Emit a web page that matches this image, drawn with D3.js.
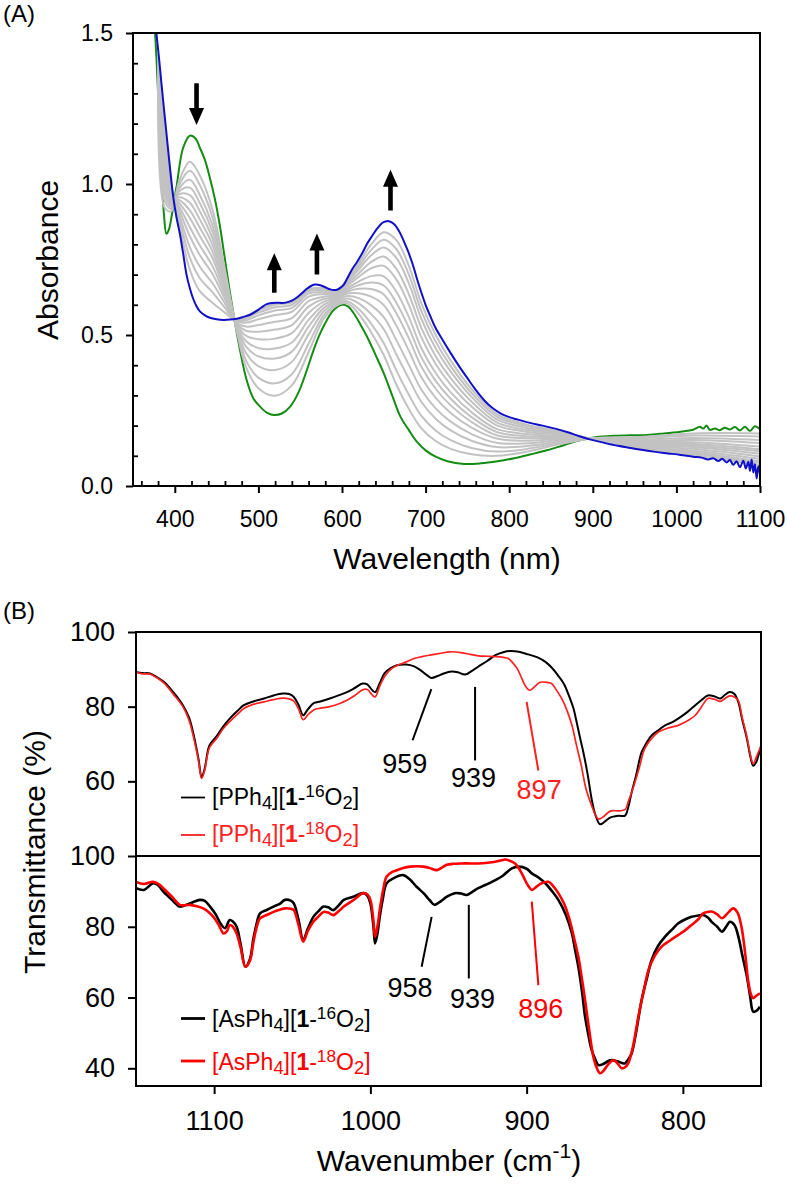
<!DOCTYPE html>
<html>
<head>
<meta charset="utf-8">
<script src="https://cdn.jsdelivr.net/npm/d3@7"></script>
<style>
  body { margin: 0; background: #fff; }
  svg text { font-family: "Liberation Sans", Arial, sans-serif; }
</style>
</head>
<body>
<svg id="fig" width="787" height="1184"></svg>
<script>
// ---------- panel A: UV-vis titration (wavelength nm, absorbance) ----------
const greenSpec = [[374,1.62],[376,1.52],[378,1.42],[380,1.30],[382,1.17],[384,1.05],[387,0.90],[390,0.835],[393,0.85],[396,0.89],[402,0.99],[410,1.12],[418,1.16],[425,1.15],[430,1.12],[436,1.08],[442,1.02],[448,0.95],[454,0.86],[460,0.75],[466,0.64],[472,0.54],[478,0.45],[486,0.35],[494,0.29],[502,0.263],[510,0.243],[518,0.235],[528,0.24],[538,0.263],[548,0.31],[558,0.384],[566,0.45],[574,0.506],[582,0.55],[590,0.583],[600,0.60],[607,0.595],[614,0.572],[622,0.535],[630,0.494],[640,0.435],[650,0.373],[660,0.30],[670,0.229],[680,0.185],[690,0.145],[700,0.118],[712,0.097],[726,0.082],[746,0.073],[766,0.075],[786,0.082],[806,0.092],[826,0.105],[846,0.119],[866,0.136],[886,0.152],[905,0.162],[925,0.166],[945,0.168],[965,0.169],[985,0.174],[1005,0.18],[1020,0.186],[1028,0.196],[1032,0.19],[1036,0.2],[1040,0.186],[1046,0.19],[1052,0.185],[1058,0.193],[1064,0.187],[1070,0.195],[1076,0.184],[1082,0.196],[1088,0.182],[1094,0.198],[1100,0.188]];

const blueSpec = [[375,1.6],[378,1.50],[381,1.42],[384,1.334],[387,1.25],[390,1.168],[394,1.06],[398,0.96],[402,0.89],[406,0.836],[410,0.77],[414,0.70],[418,0.655],[422,0.62],[426,0.595],[430,0.578],[436,0.565],[442,0.557],[450,0.552],[458,0.55],[466,0.551],[474,0.554],[482,0.56],[490,0.567],[498,0.58],[504,0.592],[510,0.602],[516,0.606],[522,0.607],[528,0.606],[534,0.608],[540,0.614],[546,0.624],[552,0.638],[558,0.653],[564,0.664],[568,0.667],[574,0.665],[580,0.658],[586,0.651],[590,0.649],[594,0.65],[598,0.656],[602,0.666],[606,0.686],[612,0.717],[618,0.742],[624,0.77],[630,0.802],[636,0.828],[642,0.852],[648,0.871],[652,0.876],[656,0.877],[660,0.872],[664,0.862],[668,0.845],[672,0.823],[676,0.797],[680,0.77],[685,0.73],[690,0.683],[695,0.64],[700,0.60],[706,0.56],[712,0.523],[720,0.485],[730,0.44],[740,0.397],[750,0.357],[760,0.318],[770,0.284],[780,0.258],[790,0.24],[800,0.228],[810,0.22],[825,0.209],[840,0.2],[855,0.19],[870,0.178],[885,0.164],[900,0.152],[915,0.142],[930,0.133],[945,0.126],[960,0.119],[975,0.113],[990,0.108],[1005,0.103],[1020,0.097],[1030,0.094],[1038,0.088],[1044,0.092],[1050,0.083],[1055,0.09],[1060,0.078],[1064,0.086],[1068,0.07],[1072,0.082],[1076,0.062],[1080,0.084],[1083,0.058],[1086,0.08],[1088,0.05],[1090,0.088],[1092,0.045],[1094,0.072],[1096,0.025],[1098,0.065],[1100,0.04]];

// intermediate spectra, all on the same wavelength grid
const greyWl = [380,388,396,405,418,430,445,460,472,485,500,520,540,560,578,592,606,620,635,650,665,680,695,712,730,755,785,820,860,900,960,1020,1100];
const greySpecs = [
  [1.325,0.921,0.91,1.008,1.074,1.028,0.916,0.716,0.542,0.395,0.324,0.299,0.333,0.443,0.553,0.595,0.605,0.57,0.508,0.433,0.336,0.255,0.191,0.149,0.123,0.105,0.10,0.113,0.138,0.158,0.163,0.174,0.174],
  [1.333,0.943,0.918,0.996,1.044,0.996,0.89,0.704,0.543,0.417,0.359,0.34,0.37,0.471,0.565,0.60,0.612,0.586,0.537,0.473,0.383,0.302,0.232,0.184,0.152,0.126,0.114,0.122,0.143,0.157,0.159,0.167,0.164],
  [1.342,0.964,0.925,0.985,1.014,0.963,0.864,0.692,0.544,0.441,0.397,0.384,0.411,0.502,0.578,0.606,0.621,0.605,0.569,0.519,0.436,0.355,0.278,0.223,0.184,0.15,0.129,0.132,0.147,0.157,0.154,0.159,0.152],
  [1.349,0.982,0.931,0.975,0.988,0.936,0.842,0.682,0.544,0.462,0.429,0.422,0.445,0.528,0.589,0.611,0.629,0.622,0.598,0.559,0.483,0.401,0.319,0.257,0.213,0.172,0.143,0.141,0.152,0.157,0.15,0.152,0.142],
  [1.357,1.0,0.937,0.966,0.963,0.909,0.82,0.672,0.545,0.48,0.457,0.455,0.475,0.55,0.60,0.616,0.637,0.638,0.627,0.599,0.531,0.448,0.36,0.292,0.242,0.193,0.157,0.15,0.156,0.157,0.146,0.145,0.131],
  [1.364,1.018,0.943,0.956,0.938,0.882,0.799,0.662,0.546,0.498,0.486,0.488,0.506,0.573,0.61,0.62,0.643,0.653,0.652,0.634,0.572,0.489,0.395,0.322,0.267,0.212,0.168,0.158,0.16,0.156,0.142,0.139,0.122],
  [1.371,1.036,0.949,0.947,0.913,0.855,0.777,0.652,0.546,0.514,0.511,0.518,0.533,0.594,0.619,0.624,0.649,0.665,0.674,0.664,0.607,0.524,0.426,0.348,0.289,0.228,0.179,0.165,0.163,0.156,0.139,0.134,0.115],
  [1.378,1.054,0.955,0.937,0.887,0.828,0.755,0.642,0.547,0.528,0.533,0.544,0.556,0.612,0.627,0.628,0.655,0.677,0.695,0.694,0.643,0.559,0.456,0.374,0.31,0.244,0.189,0.172,0.166,0.156,0.136,0.129,0.107],
  [1.387,1.076,0.962,0.926,0.857,0.796,0.729,0.63,0.548,0.541,0.552,0.566,0.577,0.627,0.635,0.632,0.662,0.692,0.721,0.729,0.684,0.60,0.492,0.404,0.336,0.263,0.201,0.18,0.17,0.156,0.133,0.123,0.098],
  [1.396,1.098,0.969,0.915,0.827,0.764,0.703,0.618,0.549,0.549,0.565,0.581,0.59,0.637,0.641,0.636,0.668,0.704,0.742,0.76,0.719,0.635,0.523,0.43,0.357,0.279,0.211,0.186,0.173,0.156,0.13,0.117,0.09],
  [1.406,1.123,0.978,0.901,0.791,0.726,0.672,0.604,0.55,0.555,0.574,0.592,0.60,0.645,0.647,0.639,0.674,0.717,0.764,0.79,0.755,0.671,0.553,0.456,0.379,0.295,0.221,0.193,0.176,0.155,0.127,0.112,0.082],
  [1.416,1.148,0.986,0.888,0.756,0.688,0.642,0.59,0.55,0.559,0.581,0.60,0.607,0.65,0.651,0.643,0.678,0.727,0.782,0.815,0.784,0.70,0.579,0.478,0.397,0.308,0.23,0.199,0.179,0.155,0.124,0.108,0.076],
  [1.428,1.177,0.996,0.873,0.716,0.645,0.607,0.574,0.551,0.561,0.584,0.603,0.611,0.652,0.655,0.646,0.683,0.738,0.80,0.84,0.814,0.729,0.604,0.50,0.415,0.321,0.238,0.204,0.181,0.155,0.122,0.103,0.069]
];

// arrows: wavelength, tail absorbance, tip absorbance
const arrowsA = [[426,1.334,1.195],[519,0.64,0.771],[570,0.70,0.836],[658,0.912,1.047]];

const wlTicks = [400,500,600,700,800,900,1000,1100];
const absTicks = [0,0.5,1.0,1.5];

// ---------- panel B: IR (wavenumber cm-1, transmittance %) ----------
const pph16 = [[1150,89.3],[1146,89.0],[1141,88.9],[1137,88.0],[1132,86.6],[1126,83.8],[1120,80.4],[1116,77],[1113,72.3],[1110,66],[1108,61.1],[1106,63.5],[1103,69.6],[1098,72.3],[1094,74.8],[1090,76.8],[1085,78.9],[1081,80.4],[1075,81.4],[1068,82.2],[1062,83.0],[1056,83.5],[1052,83.4],[1049,82.6],[1046,80.5],[1043,77.7],[1040,79.3],[1036,81.0],[1032,81.4],[1026,82.2],[1020,83.1],[1015,83.9],[1010,85.0],[1005,86.2],[1002,86.0],[999,84.5],[997,83.9],[994,86.3],[991,88.9],[987,90.3],[983,91.1],[977,91.3],[972,90.8],[968,89.8],[964,88.5],[961,87.7],[957,88.2],[953,88.9],[948,89.4],[944,89.2],[939.4,88.6],[935,89.6],[931,90.7],[925,92.3],[920,93.8],[915,94.6],[910.6,94.9],[905,94.7],[899,94.0],[893,93.2],[888,92.0],[884,90.5],[880,88.4],[876,86.0],[873,83.0],[870,79.5],[868,75.9],[866,72],[863.7,67.8],[861,62],[858.4,55.3],[856,51],[853,48.5],[850,49.2],[846.6,50.3],[844,50.6],[841,50.8],[837,50.8],[835,53],[832.8,57],[830,61.5],[826.4,67.8],[823,70.5],[820,72.3],[815,73.9],[811.4,75],[807,75.8],[803,76.8],[797,78.6],[792,80.4],[788,81.8],[784,83],[780,82.8],[776,82.2],[773,83.2],[770,83.9],[767,83.4],[764.5,81.2],[762,76.5],[759,71.4],[757,67],[755,64.2],[753,65.2],[751,67.8],[750,68.5]];

const pph18 = [[1150,89.3],[1146,88.8],[1141,88.7],[1137,87.8],[1132,86.3],[1126,83.3],[1120,80],[1116,76.3],[1113,71.5],[1110,65.5],[1108,60.8],[1106,63],[1103,69],[1098,71.7],[1094,74.2],[1090,76],[1085,78],[1081,79.5],[1075,80.6],[1068,81.3],[1062,81.9],[1056,82.3],[1052,82.1],[1049,81.5],[1046,79.4],[1043,76.5],[1040,77.8],[1036,79.2],[1032,79.6],[1026,80],[1020,80.8],[1015,81.7],[1010,83],[1005,84.5],[1002,84.6],[999,83.2],[997,82.6],[994,85.5],[991,88],[987,90],[983,91],[977,92],[972,92.9],[967,93.4],[962,93.8],[955,94.3],[949,94.7],[942,94.5],[936,94],[931,93.6],[925,93.5],[920,93.4],[915,93.2],[911.7,92.9],[909,91.8],[906,90.2],[903,87.5],[901,85.7],[898,84.4],[895,85.3],[892,86.4],[890,86.6],[887,86.5],[884,86.2],[881,84.5],[877.6,82.2],[874,78.8],[871,75],[868,69.5],[865,64.2],[862,58],[858.4,53.5],[856,51],[854,49.9],[851,50.5],[848,51.6],[846,52.1],[841,52.1],[837,52.4],[835,54.5],[832,58],[828,63.5],[824.5,68.7],[820,71.5],[815.7,73.2],[810,74.2],[803,75],[797,76.2],[792,77.7],[788,80],[784,82.2],[780,82],[776,81.4],[773,82.2],[770,82.9],[767,82.6],[764.5,81.6],[762,77],[759,71.9],[757,67.5],[755,64.7],[753,66.5],[750,69.6]];

const asph16 = [[1150,90.9],[1145,90.4],[1139,92.3],[1136,91.8],[1132.5,89.9],[1127,87.6],[1122,85.7],[1119,86],[1115.5,86.6],[1112,87.2],[1109,87.6],[1106,87.3],[1102.6,85.7],[1099,83.5],[1096,81],[1093,79.6],[1090,81.9],[1088,81.5],[1085.6,80],[1083,75],[1080,68.7],[1077,71],[1075,76.3],[1073,80.5],[1070.6,83.8],[1066,84.8],[1062,85.7],[1058,86.5],[1054.6,87.6],[1051,87.4],[1049,86.6],[1046,82],[1043,76.3],[1040,79.5],[1036.5,82.8],[1033,84.5],[1030,85.7],[1027,85.5],[1023.7,84.7],[1020,86.2],[1017,87.6],[1011,88.5],[1004.5,89.5],[1002,88.8],[1000,86.6],[998,80],[997,75.3],[995.5,78],[994,82.8],[992,88],[989.6,92.3],[985.3,93.7],[979,94.6],[975,93.5],[970.4,91.3],[966,89.5],[962,87.5],[959,86.2],[955,87.2],[951,88.5],[946,89.5],[942,89.4],[938.4,89],[935,89.8],[931,90.9],[926,91.9],[920,93.2],[915,94.5],[909.5,96.5],[905,97],[900,96.4],[896.7,95.1],[892,93.8],[888,92.3],[884,90.2],[879.7,87.6],[875,83.5],[871,78.1],[869,73.5],[866.9,68.7],[864.5,61.5],[862.6,54.6],[860.5,49.5],[858.4,45.2],[856,42.5],[854,40.9],[851,41.2],[848,42],[845.6,42.3],[842,42],[839,41.5],[837,41.4],[835,42.5],[832.8,44.2],[830,50],[826.4,59.3],[823,65.5],[820,70.6],[816,74.5],[811.4,77.2],[807,79.2],[802.9,81],[798,82.2],[794.4,82.8],[790,83.2],[787,83.3],[784,82.6],[781.6,81.4],[778,80],[775,78.6],[772,80.2],[770,81.4],[767,80.5],[764.5,77.2],[762,72],[759,65.9],[757,60.5],[755,56],[753,56.2],[750.7,57.4]];

const asph18 = [[1150,92.7],[1145,92.1],[1139,92.7],[1136,92.2],[1132.5,90.9],[1127,88.5],[1122,86.2],[1118,86.1],[1115.5,86.2],[1111,85.8],[1107,85.2],[1104,84.3],[1100.5,82.8],[1097,80.5],[1094,78.1],[1092,78.6],[1090,80.5],[1088,80],[1085.6,78.1],[1083,74],[1080,68.7],[1077,70.5],[1075,75.3],[1073,79.5],[1070.6,82.4],[1066,83.4],[1062,84.2],[1058,84.8],[1054.6,85.2],[1051,85.1],[1049,84.7],[1046,80.5],[1043,75.8],[1040,78.8],[1036.5,81.4],[1033,83],[1030,84.2],[1027,84],[1023.7,83.3],[1020,84.5],[1017,85.7],[1011,87.5],[1004.5,89.5],[1002,89.2],[1000,87.6],[998,81.5],[997,77.2],[995.5,80],[994,84.7],[992,90],[989.6,94.2],[986,95.5],[983,96],[979,96.6],[974.6,97],[970,97.1],[966,97],[962,96.6],[957.6,96],[954,96.8],[951,97.5],[947,97.8],[941.6,97.9],[936,97.9],[931,97.9],[925,98.1],[920,98.4],[916,98.8],[913.8,99],[911,98.7],[907.4,97.9],[904,95.8],[901,93.2],[899,91.6],[896.7,90.4],[894,91.2],[890.4,92.3],[886,92.7],[883,91.5],[879.7,89.5],[876,86.5],[873,82.8],[870,77.5],[866.9,71.5],[864.5,65],[862.6,59.3],[860,51],[857.3,43.3],[855,40],[853,38.6],[851,39.2],[849,40.4],[847,41.5],[844.5,42.3],[842,41.5],[839.2,40],[837,40.3],[835,41.4],[832,46],[828.5,54.6],[825,62],[822,67.8],[818,71.8],[813.6,74.4],[808,76.2],[802.9,77.7],[798,79.2],[794.4,80.5],[790,82.2],[787,83.8],[784,84.2],[781.6,84.3],[778,83.5],[775,82.4],[771,84],[767.8,85.2],[765,84],[762.5,80],[760,72],[758.3,65],[756.5,61],[755,59.8],[753,60.5],[750.7,61.2]];

// peak labels: text, line start (wn, T), line end (wn, T), label (wn, T)
const peaksPPh = [["959",961,84.7,973,71,978,62.3,"#000"],["939",933,85.3,933,65.6,934,58.4,"#000"],["897",900,81.3,892.5,62.9,892,55.3,"#ff2020"]];
const peaksAsPh = [["958",960.8,82.8,967.2,68.7,974.6,60.2,"#000"],["939",937,86.2,937,65.4,934.6,57,"#000"],["896",896.7,87.1,892.5,63.5,891,54.1,"#ff0000"]];

const wnTicks = [1100,1000,900,800];
const tTicksTop = [60,80,100];
const tTicksBottom = [40,60,80,100];

const svg = d3.select("#fig");
const FONT = "'Liberation Sans', Arial, sans-serif";

function tidy(g, fs) {
  g.attr("font-family", FONT);
  g.select(".domain").remove();
  g.selectAll("line").attr("stroke", "#000").attr("stroke-width", 2);
  g.selectAll("text").attr("font-size", fs).attr("fill", "#000");
}

// ================= Panel A =================
const xA = d3.scaleLinear().domain([350, 1100]).range([133, 760]);
const yA = d3.scaleLinear().domain([0, 1.5]).range([486, 33]);

svg.append("clipPath").attr("id", "clipA").append("rect")
  .attr("x", 133).attr("y", 33).attr("width", 627).attr("height", 453);

const lineA = d3.line().x(d => xA(d[0])).y(d => yA(d[1])).curve(d3.curveCatmullRom.alpha(0.5));
const plotA = svg.append("g").attr("clip-path", "url(#clipA)");

plotA.append("path").datum(greenSpec).attr("d", lineA)
  .attr("fill", "none").attr("stroke", "#148c14").attr("stroke-width", 2);

plotA.selectAll(".grey").data(greySpecs).join("path")
  .attr("class", "grey")
  .attr("d", s => lineA(s.map((v, i) => [greyWl[i], v])))
  .attr("fill", "none").attr("stroke", "#c2c2c2").attr("stroke-width", 2);

plotA.append("path").datum(blueSpec).attr("d", lineA)
  .attr("fill", "none").attr("stroke", "#1010c8").attr("stroke-width", 2);

// arrows
svg.selectAll(".arrow").data(arrowsA).join("path")
  .attr("class", "arrow")
  .attr("d", d => {
    const x = xA(d[0]), y0 = yA(d[1]), y1 = yA(d[2]);
    const dir = y1 < y0 ? 1 : -1;    // 1 = pointing up
    const head = 17, hw = 7.5, sw = 2.3;
    const yb = y1 + dir * head;
    return `M${x - sw},${y0} L${x - sw},${yb} L${x - hw},${yb} L${x},${y1} L${x + hw},${yb} L${x + sw},${yb} L${x + sw},${y0} Z`;
  })
  .attr("fill", "#000");

// axes A
const gxA = svg.append("g").attr("transform", "translate(0,486)")
  .call(d3.axisBottom(xA).tickValues(wlTicks).tickFormat(d3.format("d")).tickSize(7).tickPadding(18).tickSizeOuter(0));
tidy(gxA, 23);
const gxAm = svg.append("g").attr("transform", "translate(0,486)")
  .call(d3.axisBottom(xA).tickValues(d3.range(360, 1100, 20).filter(v => v % 100 !== 0)).tickSize(-5).tickFormat("").tickSizeOuter(0));
tidy(gxAm, 23);
gxAm.selectAll("line").attr("stroke-width", 1.8);

const gyA = svg.append("g").attr("transform", "translate(133,0)")
  .call(d3.axisLeft(yA).tickValues(absTicks).tickFormat(d3.format(".1f")).tickSize(7).tickPadding(13).tickSizeOuter(0));
tidy(gyA, 23);
const gyAm = svg.append("g").attr("transform", "translate(133,0)")
  .call(d3.axisLeft(yA).tickValues(d3.range(1, 15).filter(v => v % 5 !== 0).map(v => v / 10)).tickSize(-5).tickFormat("").tickSizeOuter(0));
tidy(gyAm, 23);
gyAm.selectAll("line").attr("stroke-width", 1.8);

svg.append("rect").attr("x", 133).attr("y", 33).attr("width", 627).attr("height", 453)
  .attr("fill", "none").attr("stroke", "#000").attr("stroke-width", 2);

svg.append("text").attr("x", 3).attr("y", 22).attr("font-size", 24).text("(A)");
svg.append("text").attr("transform", "translate(58,260) rotate(-90)")
  .attr("text-anchor", "middle").attr("font-size", 30).text("Absorbance");
svg.append("text").attr("x", 447).attr("y", 569)
  .attr("text-anchor", "middle").attr("font-size", 30).text("Wavelength (nm)");

// ================= Panel B =================
const xB = d3.scaleLinear().domain([1150, 750]).range([136, 761]);
const yTop = d3.scaleLinear().domain([40, 100]).range([856, 632]);
const yBot = d3.scaleLinear().domain([35, 100]).range([1086, 856]);

function irPanel(id, y, black, red, wBlack, wRed, redColor, peaks) {
  const [y1, y0] = y.range();
  svg.append("clipPath").attr("id", id).append("rect")
    .attr("x", 136).attr("y", y0).attr("width", 625).attr("height", y1 - y0);
  const line = d3.line().x(d => xB(d[0])).y(d => y(d[1])).curve(d3.curveCatmullRom.alpha(0.5));
  const g = svg.append("g").attr("clip-path", `url(#${id})`);
  g.append("path").datum(black).attr("d", line)
    .attr("fill", "none").attr("stroke", "#000").attr("stroke-width", wBlack);
  g.append("path").datum(red).attr("d", line)
    .attr("fill", "none").attr("stroke", redColor).attr("stroke-width", wRed);

  const pk = svg.append("g");
  pk.selectAll("line").data(peaks).join("line")
    .attr("x1", d => xB(d[1])).attr("y1", d => y(d[2]))
    .attr("x2", d => xB(d[3])).attr("y2", d => y(d[4]))
    .attr("stroke", d => d[7]).attr("stroke-width", 2);
  pk.selectAll("text").data(peaks).join("text")
    .attr("x", d => xB(d[5])).attr("y", d => y(d[6]))
    .attr("text-anchor", "middle").attr("font-size", 27)
    .attr("fill", d => d[7]).text(d => d[0]);
}

irPanel("clipB1", yTop, pph16, pph18, 2, 1.7, "#ff2020", peaksPPh);
irPanel("clipB2", yBot, asph16, asph18, 2.6, 2.6, "#ff0000", peaksAsPh);

// legends
function legendEntry(yLine, yText, cation, iso, color, w) {
  svg.append("line").attr("x1", 181).attr("x2", 205).attr("y1", yLine).attr("y2", yLine)
    .attr("stroke", color).attr("stroke-width", w);
  const t = svg.append("text").attr("x", 212).attr("y", yText).attr("font-size", 23).attr("fill", color);
  t.append("tspan").text("[" + cation);
  t.append("tspan").attr("font-size", "80%").attr("baseline-shift", "-20%").text("4");
  t.append("tspan").text("][");
  t.append("tspan").attr("font-weight", "bold").text("1");
  t.append("tspan").text("-");
  t.append("tspan").attr("font-size", "75%").attr("baseline-shift", "45%").text(iso);
  t.append("tspan").text("O");
  t.append("tspan").attr("font-size", "80%").attr("baseline-shift", "-20%").text("2");
  t.append("tspan").text("]");
}
legendEntry(797.5, 805, "PPh", "16", "#000", 1.8);
legendEntry(835, 842, "PPh", "18", "#ff2020", 1.8);
legendEntry(1018.5, 1027, "AsPh", "16", "#000", 2.8);
legendEntry(1061, 1070, "AsPh", "18", "#ff0000", 2.8);

// axes B
const gyB1 = svg.append("g").attr("transform", "translate(136,0)")
  .call(d3.axisLeft(yTop).tickValues(tTicksTop).tickSize(8).tickPadding(13).tickSizeOuter(0));
tidy(gyB1, 27);
const gyB2 = svg.append("g").attr("transform", "translate(136,0)")
  .call(d3.axisLeft(yBot).tickValues(tTicksBottom).tickSize(8).tickPadding(13).tickSizeOuter(0));
tidy(gyB2, 27);
const gxB = svg.append("g").attr("transform", "translate(0,1086)")
  .call(d3.axisBottom(xB).tickValues(wnTicks).tickFormat(d3.format("d")).tickSize(8).tickPadding(17).tickSizeOuter(0));
tidy(gxB, 27);

svg.append("rect").attr("x", 136).attr("y", 632).attr("width", 625).attr("height", 224)
  .attr("fill", "none").attr("stroke", "#000").attr("stroke-width", 2);
svg.append("rect").attr("x", 136).attr("y", 856).attr("width", 625).attr("height", 230)
  .attr("fill", "none").attr("stroke", "#000").attr("stroke-width", 2);

svg.append("text").attr("x", 3).attr("y", 619).attr("font-size", 24).text("(B)");
svg.append("text").attr("transform", "translate(45,852) rotate(-90)")
  .attr("text-anchor", "middle").attr("font-size", 30).text("Transmittance (%)");
const xt = svg.append("text").attr("x", 449).attr("y", 1171)
  .attr("text-anchor", "middle").attr("font-size", 30);
xt.append("tspan").text("Wavenumber (cm");
xt.append("tspan").attr("font-size", "70%").attr("baseline-shift", "60%").text("-1");
xt.append("tspan").text(")");
</script>
</body>
</html>
